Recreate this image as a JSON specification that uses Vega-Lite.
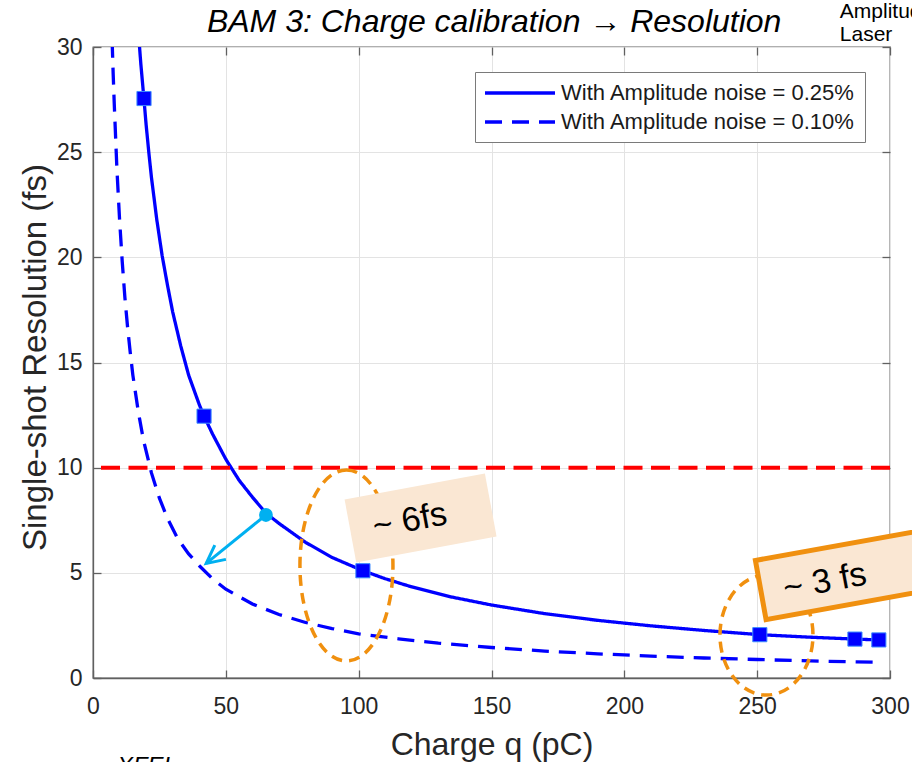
{
  "$schema": "https://vega.github.io/schema/vega-lite/v6.json",
  "width": 797,
  "height": 631,
  "autosize": {"type": "none"},
  "padding": {"left": 93, "top": 47, "right": 22, "bottom": 84},
  "background": "white",
  "datasets": {
    "curves": [
      {"q": 17.4, "y": 30.2, "series": "With Amplitude noise = 0.25%"},
      {"q": 18, "y": 29.2, "series": "With Amplitude noise = 0.25%"},
      {"q": 19.2, "y": 27.5, "series": "With Amplitude noise = 0.25%"},
      {"q": 20, "y": 26.3, "series": "With Amplitude noise = 0.25%"},
      {"q": 21, "y": 25.0, "series": "With Amplitude noise = 0.25%"},
      {"q": 22, "y": 23.8, "series": "With Amplitude noise = 0.25%"},
      {"q": 24, "y": 21.8, "series": "With Amplitude noise = 0.25%"},
      {"q": 26, "y": 20.1, "series": "With Amplitude noise = 0.25%"},
      {"q": 28, "y": 18.7, "series": "With Amplitude noise = 0.25%"},
      {"q": 30, "y": 17.4, "series": "With Amplitude noise = 0.25%"},
      {"q": 33, "y": 15.8, "series": "With Amplitude noise = 0.25%"},
      {"q": 36, "y": 14.4, "series": "With Amplitude noise = 0.25%"},
      {"q": 40, "y": 13.0, "series": "With Amplitude noise = 0.25%"},
      {"q": 41.8, "y": 12.45, "series": "With Amplitude noise = 0.25%"},
      {"q": 45, "y": 11.6, "series": "With Amplitude noise = 0.25%"},
      {"q": 50, "y": 10.4, "series": "With Amplitude noise = 0.25%"},
      {"q": 55, "y": 9.4, "series": "With Amplitude noise = 0.25%"},
      {"q": 60, "y": 8.6, "series": "With Amplitude noise = 0.25%"},
      {"q": 65, "y": 7.85, "series": "With Amplitude noise = 0.25%"},
      {"q": 70, "y": 7.35, "series": "With Amplitude noise = 0.25%"},
      {"q": 80, "y": 6.45, "series": "With Amplitude noise = 0.25%"},
      {"q": 90, "y": 5.73, "series": "With Amplitude noise = 0.25%"},
      {"q": 101.6, "y": 5.1, "series": "With Amplitude noise = 0.25%"},
      {"q": 110, "y": 4.72, "series": "With Amplitude noise = 0.25%"},
      {"q": 120, "y": 4.33, "series": "With Amplitude noise = 0.25%"},
      {"q": 135, "y": 3.85, "series": "With Amplitude noise = 0.25%"},
      {"q": 150, "y": 3.47, "series": "With Amplitude noise = 0.25%"},
      {"q": 170, "y": 3.06, "series": "With Amplitude noise = 0.25%"},
      {"q": 190, "y": 2.74, "series": "With Amplitude noise = 0.25%"},
      {"q": 210, "y": 2.48, "series": "With Amplitude noise = 0.25%"},
      {"q": 230, "y": 2.26, "series": "With Amplitude noise = 0.25%"},
      {"q": 251, "y": 2.06, "series": "With Amplitude noise = 0.25%"},
      {"q": 270, "y": 1.94, "series": "With Amplitude noise = 0.25%"},
      {"q": 286.8, "y": 1.85, "series": "With Amplitude noise = 0.25%"},
      {"q": 295.8, "y": 1.81, "series": "With Amplitude noise = 0.25%"},
      {"q": 7.2, "y": 30.3, "series": "With Amplitude noise = 0.10%"},
      {"q": 7.6, "y": 28.7, "series": "With Amplitude noise = 0.10%"},
      {"q": 8, "y": 27.3, "series": "With Amplitude noise = 0.10%"},
      {"q": 9, "y": 24.2, "series": "With Amplitude noise = 0.10%"},
      {"q": 10, "y": 21.8, "series": "With Amplitude noise = 0.10%"},
      {"q": 11, "y": 19.8, "series": "With Amplitude noise = 0.10%"},
      {"q": 12, "y": 18.1, "series": "With Amplitude noise = 0.10%"},
      {"q": 13, "y": 16.7, "series": "With Amplitude noise = 0.10%"},
      {"q": 14, "y": 15.5, "series": "With Amplitude noise = 0.10%"},
      {"q": 15, "y": 14.4, "series": "With Amplitude noise = 0.10%"},
      {"q": 17, "y": 12.7, "series": "With Amplitude noise = 0.10%"},
      {"q": 19, "y": 11.3, "series": "With Amplitude noise = 0.10%"},
      {"q": 22, "y": 9.75, "series": "With Amplitude noise = 0.10%"},
      {"q": 25, "y": 8.55, "series": "With Amplitude noise = 0.10%"},
      {"q": 28, "y": 7.6, "series": "With Amplitude noise = 0.10%"},
      {"q": 32, "y": 6.6, "series": "With Amplitude noise = 0.10%"},
      {"q": 36, "y": 5.9, "series": "With Amplitude noise = 0.10%"},
      {"q": 40.3, "y": 5.3, "series": "With Amplitude noise = 0.10%"},
      {"q": 45, "y": 4.72, "series": "With Amplitude noise = 0.10%"},
      {"q": 50, "y": 4.22, "series": "With Amplitude noise = 0.10%"},
      {"q": 60, "y": 3.52, "series": "With Amplitude noise = 0.10%"},
      {"q": 70, "y": 3.02, "series": "With Amplitude noise = 0.10%"},
      {"q": 80, "y": 2.64, "series": "With Amplitude noise = 0.10%"},
      {"q": 90, "y": 2.35, "series": "With Amplitude noise = 0.10%"},
      {"q": 100, "y": 2.1, "series": "With Amplitude noise = 0.10%"},
      {"q": 115, "y": 1.86, "series": "With Amplitude noise = 0.10%"},
      {"q": 130, "y": 1.66, "series": "With Amplitude noise = 0.10%"},
      {"q": 150, "y": 1.45, "series": "With Amplitude noise = 0.10%"},
      {"q": 170, "y": 1.28, "series": "With Amplitude noise = 0.10%"},
      {"q": 190, "y": 1.15, "series": "With Amplitude noise = 0.10%"},
      {"q": 210, "y": 1.04, "series": "With Amplitude noise = 0.10%"},
      {"q": 230, "y": 0.95, "series": "With Amplitude noise = 0.10%"},
      {"q": 250, "y": 0.88, "series": "With Amplitude noise = 0.10%"},
      {"q": 270, "y": 0.81, "series": "With Amplitude noise = 0.10%"},
      {"q": 294, "y": 0.75, "series": "With Amplitude noise = 0.10%"}
    ],
    "markers": [
      {"q": 19.2, "y": 27.55},
      {"q": 41.8, "y": 12.45},
      {"q": 101.6, "y": 5.1},
      {"q": 251, "y": 2.06},
      {"q": 286.8, "y": 1.85},
      {"q": 295.8, "y": 1.81}
    ],
    "threshold": [{"y": 10}],
    "highlight": [{"q": 65.1, "y": 7.75}],
    "arrow": [{"q": 65.1, "y": 7.75}, {"q": 42.6, "y": 5.45}],
    "arrowtip": [{"q": 42.6, "y": 5.45}],
    "ellipse1": [{"q": 95.4, "y": 5.35}],
    "ellipse2": [{"q": 253.5, "y": 2.04}],
    "box1": [{"q": 123.3, "y": 7.61}],
    "box2": [{"q": 292.1, "y": 5.11}],
    "notes": [
      {"q": 119.3, "y": 7.47, "label": "~ 6fs"},
      {"q": 275.5, "y": 4.56, "label": "~ 3 fs"}
    ],
    "heading": [{"q": 151, "y": 30.72, "label": "BAM 3: Charge calibration → Resolution"}],
    "corner": [
      {"q": 281.1, "y": 31.38, "label": "Amplitude"},
      {"q": 281.1, "y": 30.29, "label": "Laser"}
    ],
    "bottom": [{"q": 9.0, "y": -4.56, "label": "XFEL"}]
  },
  "resolve": {"axis": {"x": "independent", "y": "independent"}},
  "layer": [
    {
      "data": {"name": "curves"},
      "mark": {"type": "line", "color": "#0000FF", "strokeWidth": 3.3, "clip": true},
      "encoding": {
        "x": {
          "field": "q", "type": "quantitative",
          "scale": {"domain": [0, 300], "nice": false, "zero": false},
          "axis": {
            "values": [0, 50, 100, 150, 200, 250, 300],
            "title": "Charge q (pC)",
            "titleFontSize": 32,
            "grid": true,
            "labelPadding": 25,
            "labelFlush": false,
            "labelOverlap": false,
            "titleBaseline": "alphabetic",
            "titleY": 76
          }
        },
        "y": {
          "field": "y", "type": "quantitative",
          "scale": {"domain": [0, 30], "nice": false, "zero": false},
          "axis": {
            "values": [0, 5, 10, 15, 20, 25, 30],
            "title": "Single-shot Resolution (fs)",
            "titleFontSize": 33,
            "grid": true,
            "labelPadding": 19,
            "labelFlush": false,
            "labelOverlap": false,
            "titleBaseline": "alphabetic",
            "titleX": -48,
            "titleY": 310
          }
        },
        "strokeDash": {
          "field": "series", "type": "nominal",
          "scale": {
            "domain": ["With Amplitude noise = 0.25%", "With Amplitude noise = 0.10%"],
            "range": [[1, 0], [17, 10]]
          },
          "legend": {
            "title": null,
            "orient": "none",
            "legendX": 382,
            "legendY": 25,
            "fillColor": "white",
            "strokeColor": "#7a7a7a",
            "padding": 9,
            "symbolType": "M-3.5,0L3.5,0",
            "symbolSize": 400,
            "symbolOffset": 24,
            "symbolStrokeWidth": 3.4,
            "symbolStrokeColor": "#0000FF",
            "labelFont": "Liberation Sans",
            "labelFontSize": 22,
            "labelColor": "#1a1a1a",
            "labelOffset": 29,
            "labelLimit": 400,
            "rowPadding": 6
          }
        }
      }
    },
    {
      "data": {"name": "threshold"},
      "mark": {"type": "rule", "color": "#FF0000", "strokeWidth": 4, "strokeDash": [19, 8.5]},
      "encoding": {
        "y": {"field": "y", "type": "quantitative", "axis": null}
      }
    },
    {
      "data": {"name": "ellipse1"},
      "mark": {
        "type": "point", "filled": false, "stroke": "#F0900F", "strokeWidth": 3.5, "strokeDash": [11, 7], "opacity": 1,
        "shape": "M0,-1C0.269,-1,0.487,-0.552,0.487,0C0.487,0.552,0.269,1,0,1C-0.269,1,-0.487,0.552,-0.487,0C-0.487,-0.552,-0.269,-1,0,-1Z",
        "size": 36481
      },
      "encoding": {
        "x": {"field": "q", "type": "quantitative", "axis": null},
        "y": {"field": "y", "type": "quantitative", "axis": null}
      }
    },
    {
      "data": {"name": "ellipse2"},
      "mark": {
        "type": "point", "filled": false, "stroke": "#F0900F", "strokeWidth": 3.5, "strokeDash": [11, 7], "opacity": 1,
        "shape": "M0,-1C0.428,-1,0.775,-0.552,0.775,0C0.775,0.552,0.428,1,0,1C-0.428,1,-0.775,0.552,-0.775,0C-0.775,-0.552,-0.428,-1,0,-1Z",
        "size": 14400
      },
      "encoding": {
        "x": {"field": "q", "type": "quantitative", "axis": null},
        "y": {"field": "y", "type": "quantitative", "axis": null}
      }
    },
    {
      "data": {"name": "box1"},
      "mark": {
        "type": "point", "filled": true, "fill": "#FAE7D3", "strokeWidth": 0, "opacity": 1,
        "shape": "M-1,-0.449L1,-0.449L1,0.449L-1,0.449Z",
        "size": 20363,
        "angle": -10.5
      },
      "encoding": {
        "x": {"field": "q", "type": "quantitative", "axis": null},
        "y": {"field": "y", "type": "quantitative", "axis": null}
      }
    },
    {
      "data": {"name": "box2"},
      "mark": {
        "type": "point", "filled": true, "fill": "#FAE7D3", "stroke": "#F0900F", "strokeWidth": 5, "opacity": 1,
        "shape": "M-1,-0.273L1,-0.273L1,0.273L-1,0.273Z",
        "size": 48400,
        "angle": -10.2
      },
      "encoding": {
        "x": {"field": "q", "type": "quantitative", "axis": null},
        "y": {"field": "y", "type": "quantitative", "axis": null}
      }
    },
    {
      "data": {"name": "markers"},
      "mark": {"type": "point", "shape": "square", "filled": true, "fill": "#0000FF", "stroke": "#3D8BFF", "strokeWidth": 1, "size": 200, "opacity": 1},
      "encoding": {
        "x": {
          "field": "q", "type": "quantitative",
          "axis": {"orient": "top", "values": [0, 50, 100, 150, 200, 250, 300], "labels": false, "title": null, "grid": false, "domain": false}
        },
        "y": {
          "field": "y", "type": "quantitative",
          "axis": {"orient": "right", "values": [0, 5, 10, 15, 20, 25, 30], "labels": false, "title": null, "grid": false, "domain": false}
        }
      }
    },
    {
      "data": {"name": "arrow"},
      "mark": {"type": "line", "color": "#00B0F0", "strokeWidth": 3},
      "encoding": {
        "x": {"field": "q", "type": "quantitative", "axis": null},
        "y": {"field": "y", "type": "quantitative", "axis": null}
      }
    },
    {
      "data": {"name": "arrowtip"},
      "mark": {
        "type": "point", "filled": false, "stroke": "#00B0F0", "strokeWidth": 3, "opacity": 1,
        "shape": "M-0.5,1L0,0L0.5,1",
        "size": 1296,
        "angle": 232
      },
      "encoding": {
        "x": {"field": "q", "type": "quantitative", "axis": null},
        "y": {"field": "y", "type": "quantitative", "axis": null}
      }
    },
    {
      "data": {"name": "highlight"},
      "mark": {"type": "point", "shape": "circle", "filled": true, "fill": "#00B0F0", "strokeWidth": 0, "size": 190, "opacity": 1},
      "encoding": {
        "x": {"field": "q", "type": "quantitative", "axis": null},
        "y": {"field": "y", "type": "quantitative", "axis": null}
      }
    },
    {
      "data": {"name": "notes"},
      "mark": {"type": "text", "font": "Liberation Sans", "fontSize": 34, "color": "#000000", "align": "center", "baseline": "middle", "angle": -10.5},
      "encoding": {
        "x": {"field": "q", "type": "quantitative", "axis": null},
        "y": {"field": "y", "type": "quantitative", "axis": null},
        "text": {"field": "label", "type": "nominal"}
      }
    },
    {
      "data": {"name": "heading"},
      "mark": {"type": "text", "font": "Liberation Sans", "fontSize": 32, "fontStyle": "italic", "color": "#000000", "align": "center", "baseline": "alphabetic"},
      "encoding": {
        "x": {"field": "q", "type": "quantitative", "axis": null},
        "y": {"field": "y", "type": "quantitative", "axis": null},
        "text": {"field": "label", "type": "nominal"}
      }
    },
    {
      "data": {"name": "corner"},
      "mark": {"type": "text", "font": "Liberation Sans", "fontSize": 21, "color": "#000000", "align": "left", "baseline": "alphabetic"},
      "encoding": {
        "x": {"field": "q", "type": "quantitative", "axis": null},
        "y": {"field": "y", "type": "quantitative", "axis": null},
        "text": {"field": "label", "type": "nominal"}
      }
    },
    {
      "data": {"name": "bottom"},
      "mark": {"type": "text", "font": "Liberation Sans", "fontSize": 24, "fontStyle": "italic", "color": "#000000", "align": "left", "baseline": "alphabetic"},
      "encoding": {
        "x": {"field": "q", "type": "quantitative", "axis": null},
        "y": {"field": "y", "type": "quantitative", "axis": null},
        "text": {"field": "label", "type": "nominal"}
      }
    }
  ],
  "config": {
    "view": {"stroke": "#606060", "strokeWidth": 1.3},
    "font": "Liberation Sans",
    "axis": {
      "labelFont": "Liberation Sans",
      "labelFontSize": 23,
      "labelColor": "#262626",
      "titleFont": "Liberation Sans",
      "titleFontSize": 30,
      "titleFontWeight": "normal",
      "titleColor": "#262626",
      "gridColor": "#e3e3e3",
      "gridWidth": 1,
      "domainColor": "#606060",
      "domainWidth": 1.3,
      "tickColor": "#606060",
      "tickWidth": 1.3,
      "tickSize": -8
    }
  }
}
